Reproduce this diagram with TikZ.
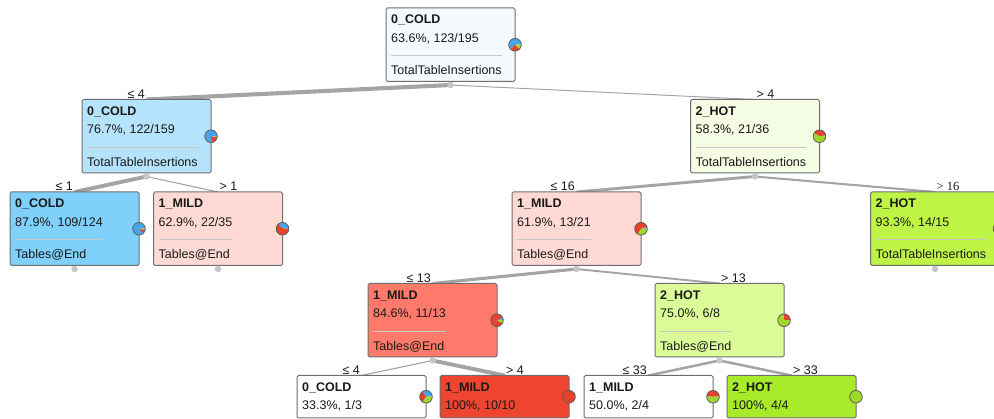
\documentclass[tikz,border=0pt]{standalone}
\usepackage{fontspec}
\setmainfont{Liberation Sans}
\newfontfamily\serifface{Liberation Serif}
\usepackage{colortbl}
\usetikzlibrary{backgrounds}

% class colours
\definecolor{coldc}{HTML}{46A5E8}
\definecolor{mildc}{HTML}{E8412C}
\definecolor{hotc}{HTML}{9CD92C}
% node fills
\definecolor{cold64}{HTML}{F3F9FD}
\definecolor{cold77}{HTML}{B4E3FB}
\definecolor{cold88}{HTML}{7FD0FA}
\definecolor{mild63}{HTML}{FFD9D3}
\definecolor{mild62}{HTML}{FFDAD5}
\definecolor{mild85}{HTML}{FF7A6B}
\definecolor{mild100}{HTML}{EE4530}
\definecolor{hot58}{HTML}{F4FCE4}
\definecolor{hot75}{HTML}{DBFB98}
\definecolor{hot93}{HTML}{BEF446}
\definecolor{hot100}{HTML}{A7EB2A}
% lines
\definecolor{edgegray}{HTML}{A4A4A4}
\definecolor{dotgray}{HTML}{C6C6C6}
\definecolor{framegray}{HTML}{6E6E6E}
\definecolor{rulegray}{HTML}{C8C8C8}
\definecolor{ink}{HTML}{1A1A1A}

\newcommand\pr{6.3}
\setlength\arrayrulewidth{0.8pt}

\tikzset{
  treebox/.style={draw=framegray, line width=1pt, rounded corners=1.5pt,
    minimum width=129pt, minimum height=73.5pt, inner sep=0pt, outer sep=0pt,
    anchor=north west},
  leafbox/.style={treebox, minimum height=42.5pt},
  boxtext/.style={inner sep=0pt, anchor=north west, align=left},
  splitdot/.style={circle, fill=dotgray, inner sep=0pt, minimum size=6.5pt},
  branch/.style={draw=edgegray, line cap=butt},
  lblL/.style={anchor=south east, inner xsep=1.5pt, inner ysep=1pt},
  lblR/.style={anchor=south west, inner xsep=1.5pt, inner ysep=1pt},
  pieline/.style={draw=framegray!85!black, line width=0.8pt},
}

% inner node: name, x, y, fill, class, share, split attribute
\newcommand\fullnode[7]{%
  \node[treebox, fill=#4] (#1) at (#2,#3) {};
  \node[boxtext] (#1-text) at (#2+5,#3+2.5)
    {\arrayrulecolor{rulegray}\begin{tabular}{@{}l@{}}\textbf{#5}\\#6\\[7.5pt]\hline\rule{0pt}{18.7pt}#7\end{tabular}};
  \node[splitdot] (#1-dot) at ([yshift=-3.5pt]#1.south) {};
}
% leaf: name, x, y, fill, class, share
\newcommand\leafnode[6]{%
  \node[leafbox, fill=#4] (#1) at (#2,#3) {};
  \node[boxtext] (#1-text) at (#2+5,#3+2.5)
    {\begin{tabular}{@{}l@{}}\textbf{#5}\\#6\end{tabular}};
}
% class distribution pie on the right edge: node, cold, mild, hot
\newcommand\pie[4]{%
  \begin{scope}[shift={(#1.east)}, x=1pt, y=1pt]
    \pgfmathsetmacro\pa{#2/(#2+#3+#4)*360}
    \pgfmathsetmacro\pb{\pa+#3/(#2+#3+#4)*360}
    \fill[coldc] (0,0) -- (0:\pr) arc[start angle=0, end angle=\pa, radius=\pr] -- cycle;
    \fill[mildc] (0,0) -- (\pa:\pr) arc[start angle=\pa, end angle=\pb, radius=\pr] -- cycle;
    \fill[hotc] (0,0) -- (\pb:\pr) arc[start angle=\pb, end angle=360, radius=\pr] -- cycle;
    \draw[pieline] (0,0) circle[radius=\pr];
  \end{scope}}

\begin{document}
\begin{tikzpicture}[x=1pt, y=-1pt, font=\fontsize{12.5}{18.5}\selectfont, text=ink]
\useasboundingbox (0,0) rectangle (994,419);
\clip (0,0) rectangle (994,419);

% tree nodes
\fullnode{root}{386}{8}{cold64}{0\_COLD}{63.6\%, 123/195}{TotalTableInsertions}
\fullnode{nA}{82}{99.5}{cold77}{0\_COLD}{76.7\%, 122/159}{TotalTableInsertions}
\fullnode{nB}{690.5}{99.5}{hot58}{2\_HOT}{58.3\%, 21/36}{TotalTableInsertions}
\fullnode{nAA}{10}{192}{cold88}{0\_COLD}{87.9\%, 109/124}{Tables@End}
\fullnode{nAB}{153.5}{192}{mild63}{1\_MILD}{62.9\%, 22/35}{Tables@End}
\fullnode{nBA}{512}{192}{mild62}{1\_MILD}{61.9\%, 13/21}{Tables@End}
\fullnode{nBB}{870.5}{192}{hot93}{2\_HOT}{93.3\%, 14/15}{TotalTableInsertions}
\fullnode{nBAA}{368}{283.5}{mild85}{1\_MILD}{84.6\%, 11/13}{Tables@End}
\fullnode{nBAB}{655}{283.5}{hot75}{2\_HOT}{75.0\%, 6/8}{Tables@End}
\leafnode{lfA}{297}{375.5}{white}{0\_COLD}{33.3\%, 1/3}
\leafnode{lfB}{440}{375.5}{mild100}{1\_MILD}{100\%, 10/10}
\leafnode{lfC}{584}{375.5}{white}{1\_MILD}{50.0\%, 2/4}
\leafnode{lfD}{727}{375.5}{hot100}{2\_HOT}{100\%, 4/4}

% class distributions
\pie{root}{123}{48}{24}
\pie{nA}{122}{34}{3}
\pie{nB}{1}{14}{21}
\pie{nAA}{109}{12}{3}
\pie{nAB}{13}{22}{0}
\pie{nBA}{1}{13}{7}
\pie{nBB}{0}{1}{14}
\pie{nBAA}{1}{11}{1}
\pie{nBAB}{0}{2}{6}
\pie{lfA}{1}{1}{1}
\pie{lfB}{0}{10}{0}
\pie{lfC}{0}{2}{2}
\pie{lfD}{0}{0}{4}

% branches, width by share of the parent's instances
\begin{scope}[on background layer]
  \draw[branch, line width=4.1pt] (root-dot.center) -- (nA.north);
  \draw[branch, line width=1pt] (root-dot.center) -- (nB.north);
  \draw[branch, line width=3.9pt] (nA-dot.center) -- (nAA.north);
  \draw[branch, line width=1.1pt] (nA-dot.center) -- (nAB.north);
  \draw[branch, line width=2.9pt] (nB-dot.center) -- (nBA.north);
  \draw[branch, line width=2.1pt] (nB-dot.center) -- (nBB.north);
  \draw[branch, line width=3.1pt] (nBA-dot.center) -- (nBAA.north);
  \draw[branch, line width=1.9pt] (nBA-dot.center) -- (nBAB.north);
  \draw[branch, line width=1.15pt] (nBAA-dot.center) -- (lfA.north);
  \draw[branch, line width=3.85pt] (nBAA-dot.center) -- (lfB.north);
  \draw[branch, line width=2.5pt] (nBAB-dot.center) -- (lfC.north);
  \draw[branch, line width=2.5pt] (nBAB-dot.center) -- (lfD.north);
\end{scope}

% branch conditions
\node[lblL] (cA) at (nA.north) {≤ 4};
\node[lblR] (cB) at (nB.north) {> 4};
\node[lblL] (cAA) at (nAA.north) {≤ 1};
\node[lblR] (cAB) at (nAB.north) {> 1};
\node[lblL] (cBA) at (nBA.north) {≤ 16};
\node[lblR] (cBB) at (nBB.north) {\serifface > 16};
\node[lblL] (cBAA) at (nBAA.north) {≤ 13};
\node[lblR] (cBAB) at (nBAB.north) {> 13};
\node[lblL] (clA) at (lfA.north) {≤ 4};
\node[lblR] (clB) at (lfB.north) {> 4};
\node[lblL] (clC) at (lfC.north) {≤ 33};
\node[lblR] (clD) at (lfD.north) {> 33};
\end{tikzpicture}
\end{document}
